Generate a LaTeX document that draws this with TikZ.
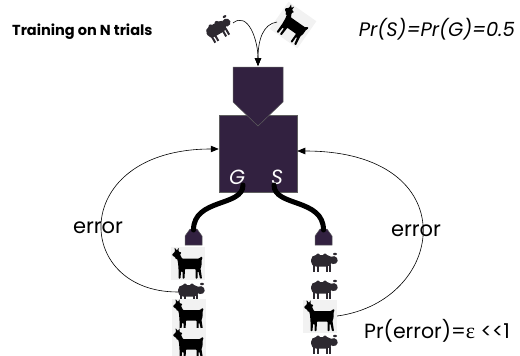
\documentclass[tikz,border=0pt]{standalone}
\usepackage{fontspec}
\setmainfont{Poppins}
\newfontfamily\symfont{Liberation Serif}
\usetikzlibrary{arrows.meta,calc}

\definecolor{machine}{RGB}{50,33,64}
\definecolor{woolgray}{RGB}{45,41,48}
\definecolor{photobg}{RGB}{242,242,242}
\definecolor{edgegray}{RGB}{95,95,95}

\tikzset{
  flow/.style={black, line width=0.6pt, -{Triangle[length=8pt,width=6.5pt]}},
  tube/.style={black, line width=5pt, line cap=round},
  machinepart/.style={fill=machine, draw=edgegray, line width=0.5pt},
  machinebox/.style={machinepart, minimum width=78pt, minimum height=77pt, inner sep=0pt},
  port/.style={text=white, font=\itshape\fontsize{20.5}{22}\selectfont, anchor=base, inner sep=0pt},
  lbl/.style={font=\fontsize{21}{24}\selectfont, anchor=base, inner sep=0pt},
  sheepslot/.style={minimum width=26pt, minimum height=20pt, inner sep=0pt},
  goatslot/.style={minimum width=34pt, minimum height=33pt, inner sep=0pt},
  pics/sheep/.style={code={
    \fill[woolgray, rounded corners=5pt] (-13,-7) rectangle (8,4.5);
    \fill[woolgray] (-6,-6.5) circle [radius=2];
    \fill[woolgray] (1,-6.5) circle [radius=2];
    \fill[woolgray, rotate=-10] (9,-3.5) ellipse [x radius=4.3, y radius=4];
    \fill[woolgray] (11,-8) ellipse [x radius=2, y radius=1.2];
    \foreach \lx in {-11,-7.5,1.5,5}{\fill[woolgray] (\lx,3) rectangle ++(2,7);}
  }},
  pics/goat/.style={code={
    \fill[photobg] (-17,-16.5) rectangle (17,16.5);
    \fill[black, rounded corners=0.6pt]
      (-16,-9) -- (-13,-12) -- (-13.5,-16) -- (-11,-13) -- (-9.5,-16) -- (-9.5,-12)
      -- (-6.5,-11) -- (-8,-9) -- (-6,-5) -- (11,-5) -- (13.5,-7) -- (14.5,-6)
      -- (13.5,-3) -- (13.5,2) -- (12.5,5) -- (14,15) -- (12,15) -- (10.5,8)
      -- (9.5,8) -- (9.5,15) -- (7.5,15) -- (7.5,5.5) -- (-3,5.5) -- (-3.5,15)
      -- (-5.5,15) -- (-5.5,8) -- (-7,8) -- (-7.5,15) -- (-9.5,15) -- (-9.5,5)
      -- (-10,-1) -- (-11,-5) -- (-12,-4) -- (-13,-6.5) -- (-15,-7.5) -- cycle;
  }},
}

\begin{document}
\begin{tikzpicture}[x=1pt, y=-1pt]
\useasboundingbox (0,0) rectangle (520,356);

% headings
\node[anchor=base west, inner sep=0pt, font=\bfseries\fontsize{14.5}{17}\selectfont] (title) at (12,35) {Training on N trials};
\node[anchor=base east, inner sep=0pt, font=\itshape\fontsize{19.5}{22}\selectfont] (prior) at (515,36) {Pr(S)=Pr(G)=0.5};

% incoming animals
\pic[rotate=30] at (219,29) {sheep};
\pic[rotate=-35] at (293,25) {goat};
\coordinate (sheepout) at (233,23);
\coordinate (goatout) at (277,22);
\coordinate (intake) at (258,66);

% the sorting machine
\node[machinebox] (box) at (258,153.5) {};
\fill[machinepart] (233,67) -- (283,67) -- (283,102) -- (258,126) -- (233,102) -- cycle;
\node[port] (G) at (237,184) {G};
\node[port] (S) at (277,184) {S};
\coordinate (gout) at (243,185);
\coordinate (sout) at (274,185);

% output nozzles
\fill[machinepart] (185,245) -- (185,236) -- (190,229) -- (197,229) -- (202,236) -- (202,245) -- cycle;
\fill[machinepart] (315,245) -- (315,236) -- (320,229) -- (327,229) -- (332,236) -- (332,245) -- cycle;
\coordinate (lnoz) at (193.5,230);
\coordinate (rnoz) at (323.5,230);

\draw[tube] (gout) .. controls +(0,22) and +(0,-32) .. (lnoz);
\draw[tube] (sout) .. controls +(0,22) and +(0,-32) .. (rnoz);

\draw[flow] (sheepout) .. controls +(15,-12) and +(0,-26) .. (intake);
\draw[flow] (goatout) .. controls +(-14,2) and +(0,-26) .. (intake);

% left output column
\pic at (188,263.5) {goat};  \node[goatslot] (L1) at (188,263.5) {};
\pic at (191,292) {sheep};   \node[sheepslot] (L2) at (191,292) {};
\pic at (189,315) {goat};    \node[goatslot] (L3) at (189,315) {};
\pic at (189,344) {goat};    \node[goatslot] (L4) at (189,344) {};

% right output column
\pic at (324,262) {sheep};   \node[sheepslot] (R1) at (324,262) {};
\pic at (324,289) {sheep};   \node[sheepslot] (R2) at (324,289) {};
\pic at (320,316) {goat};    \node[goatslot] (R3) at (320,316) {};
\pic at (324,344) {sheep};   \node[sheepslot] (R4) at (324,344) {};

% error feedback loops
\draw[flow] (L2.west) .. controls +(-106,0) and +(-150,0) .. ($(box.west)+(0,-4.5)$);
\draw[flow] (R3.east) .. controls +(110,-15) and +(170,0) .. ($(box.east)+(0,-2.5)$);

\node[lbl] (errl) at (98,233) {error};
\node[lbl] (errr) at (416,236) {error};

\node[anchor=base west, inner sep=0pt, font=\fontsize{20.5}{24}\selectfont] (perr) at (364,338) {Pr(error)={\symfont\fontsize{22}{24}\selectfont ε} <{}<1};
\end{tikzpicture}
\end{document}
